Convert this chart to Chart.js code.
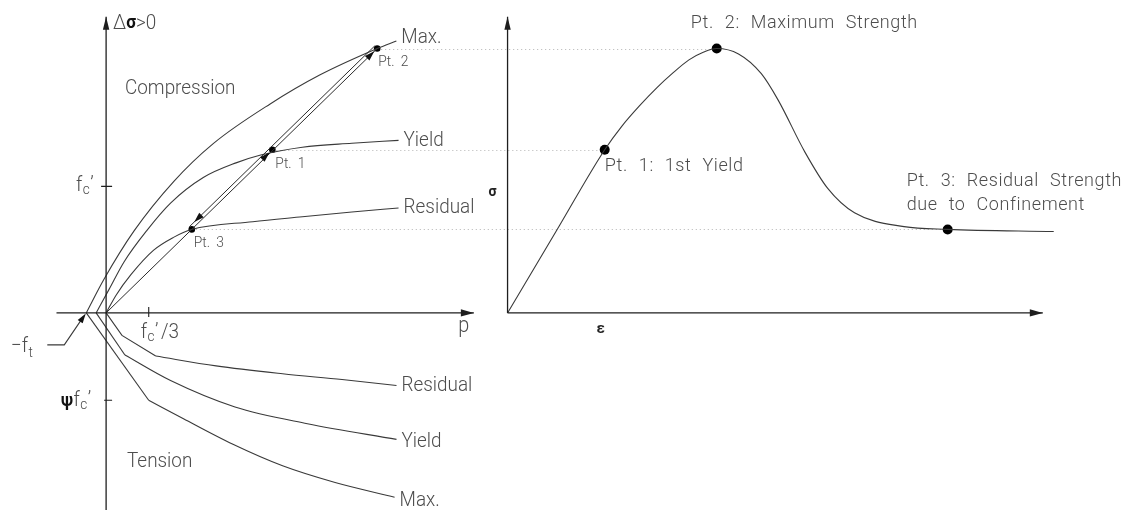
<!DOCTYPE html>
<html>
<head>
<meta charset="utf-8">
<script src="https://cdn.jsdelivr.net/npm/chart.js@4.4.1/dist/chart.umd.min.js"></script>
<style>
  html, body { margin: 0; padding: 0; background: #fff; }
  #wrap { position: relative; width: 1142px; height: 515px; }
</style>
</head>
<body>
<div id="wrap"><canvas id="c" width="1142" height="515"></canvas></div>
<script>
// ---- Meridional plane (p, Δσ), everything normalised by f_c' ----
const fcTick = 1;            // f_c'
const fcThirdTick = 1 / 3;   // f_c'/3
const psiTick = -0.69;       // ψ f_c'
const ftValue = 0.155;       // tensile strength f_t (surfaces start at -f_t)

// compression meridians [p, Δσ]
const compMax      = [[-0.155,0],[-0.02,0.26],[0.22,0.65],[0.53,1.04],[0.84,1.34],[1.28,1.65],[1.67,1.88],[2.12,2.09],[2.27,2.15]];
const compYield    = [[-0.078,0],[0.023,0.186],[0.14,0.403],[0.318,0.651],[0.504,0.868],[0.76,1.07],[1.016,1.186],[1.209,1.248],[1.535,1.31],[1.922,1.341],[2.287,1.364]];
const compResidual = [[0,0],[0.078,0.14],[0.194,0.302],[0.372,0.496],[0.527,0.597],[0.667,0.659],[1.147,0.721],[1.535,0.76],[1.922,0.798],[2.287,0.829]];

// tension meridians [p, Δσ]; the first points form a straight leg up to the kink
const tensMax      = [[-0.155,0],[0.333,-0.69],[0.605,-0.837],[0.992,-1.039],[1.38,-1.209],[1.791,-1.341],[2.256,-1.457]];
const tensYield    = [[-0.078,0],[0.147,-0.333],[0.504,-0.535],[1.008,-0.744],[1.574,-0.876],[2.271,-1.0]];
const tensResidual = [[0,0],[0.124,-0.178],[0.388,-0.341],[0.86,-0.419],[1.38,-0.481],[1.845,-0.527],[2.271,-0.574]];
const tensKink = { max: 1, yield: 1, residual: 2 };

// characteristic points: Pt. 1 (1st yield), Pt. 2 (maximum), Pt. 3 (residual)
const ptNames  = ['Pt. 1', 'Pt. 2', 'Pt. 3'];
const ptP      = [1.30, 2.12, 0.67];
const ptStress = [1.29, 2.09, 0.66];
const ptStrain = [0.98, 2.11, 4.44];

// ---- Stress-strain response (ε, σ) ----
const strain = [0, 0.49, 0.98, 1.15, 1.33, 1.51, 1.66, 1.83, 1.98, 2.11, 2.33, 2.56, 2.73, 3.00, 3.23, 3.50, 4.00, 4.44, 5.51];
const stress = [0, 0.645, 1.29, 1.473, 1.636, 1.783, 1.891, 2.0, 2.062, 2.09, 2.047, 1.891, 1.682, 1.271, 0.984, 0.791, 0.682, 0.66, 0.643];

// axis extents
const pAxis = [-0.388, 2.876];
const dsAxis = [-1.558, 2.341];
const epsAxis = [0, 5.40];
const sigAxis = [0, 2.341];

const INK = '#3a3a3a';
const AXIS = '#1e1e1e';
const TEXT = '#4d4d4d';
const FONT = 'Roboto, "DejaVu Sans", sans-serif';

const toXY = arr => arr.map(([a, b]) => ({ x: a, y: b }));
function line(data, xAxisID, extra) {
  return Object.assign({
    data: toXY(data), xAxisID: xAxisID, yAxisID: 'y', showLine: true,
    borderColor: INK, borderWidth: 1.1, pointRadius: 0, pointHoverRadius: 0,
    fill: false, tension: 0
  }, extra || {});
}
const curve = (data, xAxisID) => line(data, xAxisID, { cubicInterpolationMode: 'monotone' });

const datasets = [
  // axes
  line([[0, dsAxis[0]], [0, dsAxis[1]]], 'x', { borderColor: AXIS, borderWidth: 1.3 }),
  line([[pAxis[0], 0], [pAxis[1], 0]], 'x', { borderColor: AXIS, borderWidth: 1.3 }),
  line([[0, sigAxis[0]], [0, sigAxis[1]]], 'x2', { borderColor: AXIS, borderWidth: 1.3 }),
  line([[epsAxis[0], 0], [epsAxis[1], 0]], 'x2', { borderColor: AXIS, borderWidth: 1.3 }),
  // compression meridians
  curve(compMax, 'x'), curve(compYield, 'x'), curve(compResidual, 'x'),
  // tension meridians: straight leg + curved tail
  line(tensMax.slice(0, tensKink.max + 1), 'x'), curve(tensMax.slice(tensKink.max), 'x'),
  line(tensYield.slice(0, tensKink.yield + 1), 'x'), curve(tensYield.slice(tensKink.yield), 'x'),
  line(tensResidual.slice(0, tensKink.residual + 1), 'x'), curve(tensResidual.slice(tensKink.residual), 'x'),
  // loading path from the origin through Pt. 3 and Pt. 1 up to Pt. 2
  line([[0, 0], [ptP[1], ptStress[1]]], 'x', { borderColor: '#2a2a2a', borderWidth: 1 }),
  // stress-strain curve
  curve(strain.map((e, i) => [e, stress[i]]), 'x2'),
  // points
  { data: toXY(ptP.map((p, i) => [p, ptStress[i]])), xAxisID: 'x', yAxisID: 'y', showLine: false,
    pointRadius: 3.3, pointBackgroundColor: '#000', pointBorderColor: '#000', pointBorderWidth: 0 },
  { data: toXY(ptStrain.map((e, i) => [e, ptStress[i]])), xAxisID: 'x2', yAxisID: 'y', showLine: false,
    pointRadius: 5, pointBackgroundColor: '#000', pointBorderColor: '#000', pointBorderWidth: 0 }
];

// text helper: o.sx compresses glyphs horizontally, o.ws / o.ls widen word / letter gaps
function txt(ctx, s, x, y, size, o) {
  o = o || {};
  const sx = o.sx || 1;
  ctx.save();
  ctx.font = (o.weight || 300) + ' ' + size + 'px ' + FONT;
  ctx.fillStyle = o.color || TEXT;
  ctx.textAlign = o.align || 'left';
  ctx.textBaseline = o.baseline || 'middle';
  if ('wordSpacing' in ctx) ctx.wordSpacing = (o.ws || 0) + 'px';
  if ('letterSpacing' in ctx) ctx.letterSpacing = (o.ls || 0) + 'px';
  ctx.translate(x, y);
  ctx.scale(sx, 1);
  ctx.fillText(s, 0, 0);
  const w = ctx.measureText(s).width * sx;
  ctx.restore();
  return w;
}
const BIG = { sx: 0.9 };
// f_c' with subscript and prime, alphabetic baseline at y
function fcLabel(ctx, x, y, size) {
  const w1 = txt(ctx, 'f', x, y, size, { baseline: 'alphabetic', sx: 0.9 });
  const w2 = txt(ctx, 'c', x + w1 + 0.5, y + 3, size * 0.72, { baseline: 'alphabetic', sx: 0.9 });
  const w3 = txt(ctx, '\u2019', x + w1 + w2 + 1, y - 1, size, { baseline: 'alphabetic', sx: 0.9 });
  return w1 + w2 + w3 + 1.5;
}
function arrowHead(ctx, tx, ty, dx, dy, len, hw) {
  const n = Math.hypot(dx, dy); dx /= n; dy /= n;
  const bx = tx - dx * len, by = ty - dy * len;
  ctx.beginPath();
  ctx.moveTo(tx, ty);
  ctx.lineTo(bx - dy * hw, by + dx * hw);
  ctx.lineTo(bx + dy * hw, by - dx * hw);
  ctx.closePath();
  ctx.fill();
}

const decor = {
  id: 'decor',
  beforeDatasetsDraw(chart) {
    const { ctx, scales: { x, x2, y } } = chart;
    ctx.save();
    ctx.strokeStyle = '#b4b4b4';
    ctx.lineWidth = 1;
    ctx.setLineDash([1, 3]);
    for (let i = 0; i < ptStress.length; i++) {
      const yy = Math.round(y.getPixelForValue(ptStress[i])) + 0.5;
      ctx.beginPath();
      ctx.moveTo(x.getPixelForValue(ptP[i]), yy);
      ctx.lineTo(x2.getPixelForValue(ptStrain[i]), yy);
      ctx.stroke();
    }
    ctx.restore();
  },
  afterDatasetsDraw(chart) {
    const { ctx, scales: { x, x2, y } } = chart;
    const X = v => x.getPixelForValue(v), X2 = v => x2.getPixelForValue(v), Y = v => y.getPixelForValue(v);
    ctx.save();
    ctx.fillStyle = AXIS;
    ctx.strokeStyle = AXIS;
    // axis arrowheads
    arrowHead(ctx, X(0), Y(dsAxis[1]), 0, -1, 13, 3.2);
    arrowHead(ctx, X(pAxis[1]), Y(0), 1, 0, 13, 3.6);
    arrowHead(ctx, X2(0), Y(sigAxis[1]), 0, -1, 13, 3.2);
    arrowHead(ctx, X2(epsAxis[1]), Y(0), 1, 0, 13, 3.6);

    // ticks
    ctx.lineWidth = 1.1;
    ctx.beginPath();
    ctx.moveTo(X(0) - 5, Y(fcTick)); ctx.lineTo(X(0) + 6, Y(fcTick));
    ctx.moveTo(X(0) - 2, Y(psiTick)); ctx.lineTo(X(0) + 6, Y(psiTick));
    ctx.moveTo(X(fcThirdTick), Y(0) - 6); ctx.lineTo(X(fcThirdTick), Y(0) + 4);
    ctx.stroke();

    // unloading path (parallel to the loading path) and path arrows
    const p1 = { x: X(ptP[0]), y: Y(ptStress[0]) };
    const p2 = { x: X(ptP[1]), y: Y(ptStress[1]) };
    const p3 = { x: X(ptP[2]), y: Y(ptStress[2]) };
    let dx = p2.x - p3.x, dy = p2.y - p3.y;
    const L = Math.hypot(dx, dy); dx /= L; dy /= L;
    const nx = dy, ny = -dx, off = 3.6;
    ctx.strokeStyle = '#2a2a2a';
    ctx.lineWidth = 1;
    ctx.beginPath();
    ctx.moveTo(p2.x + nx * off, p2.y + ny * off);
    ctx.lineTo(p3.x + nx * off, p3.y + ny * off);
    ctx.stroke();
    ctx.fillStyle = '#111';
    arrowHead(ctx, p1.x - dx * 4, p1.y - dy * 4, dx, dy, 10, 3.2);
    arrowHead(ctx, p2.x - dx * 4, p2.y - dy * 4, dx, dy, 10, 3.2);
    arrowHead(ctx, p3.x + nx * off + dx * 7, p3.y + ny * off + dy * 7, -dx, -dy, 10, 3.2);

    // -f_t leader
    const fx = X(-ftValue), fy = Y(0);
    ctx.strokeStyle = INK;
    ctx.lineWidth = 1.1;
    ctx.beginPath();
    ctx.moveTo(fx - 39, fy + 32);
    ctx.lineTo(fx - 22, fy + 32);
    ctx.lineTo(fx - 3, fy + 4);
    ctx.stroke();
    ctx.fillStyle = '#111';
    arrowHead(ctx, fx - 0.5, fy + 0.5, 19, -28, 10, 3);

    // ---- text ----
    txt(ctx, 'Compression', 125, 89, 21, BIG);
    txt(ctx, 'Tension', 127, 462, 21, BIG);
    let w = txt(ctx, '\u0394', 113, 24, 21, BIG);
    w += txt(ctx, '\u03c3', 113 + w, 23, 19, { weight: 700, color: '#111', sx: 0.9 });
    txt(ctx, '>0', 113 + w, 24, 21, BIG);
    txt(ctx, 'p', X(pAxis[1]) - 10, Y(0) + 14, 22, { align: 'center', sx: 0.9 });

    // tick labels
    fcLabel(ctx, 76, Y(fcTick) + 5, 21);
    const pw = txt(ctx, '\u03c8', 61, Y(psiTick) + 6, 18, { weight: 700, color: '#111', baseline: 'alphabetic', sx: 0.9 });
    fcLabel(ctx, 61 + pw + 0.5, Y(psiTick) + 6, 21);
    const fw = fcLabel(ctx, X(fcThirdTick) - 8, Y(0) + 25, 21);
    txt(ctx, '/3', X(fcThirdTick) - 8 + fw + 2, Y(0) + 25, 21, { baseline: 'alphabetic', sx: 0.9 });
    const mw = txt(ctx, '\u2212f', 11, fy + 39, 21, { baseline: 'alphabetic', sx: 0.9 });
    txt(ctx, 't', 11 + mw + 0.5, fy + 44, 15, { baseline: 'alphabetic', sx: 0.9 });

    // surface names at the ends of the meridians
    const endLabel = (arr, s, dyy) => {
      const e = arr[arr.length - 1];
      txt(ctx, s, X(e[0]) + 5, Y(e[1]) + dyy, 21, BIG);
    };
    endLabel(compMax, 'Max.', -3);
    endLabel(compYield, 'Yield', 0);
    endLabel(compResidual, 'Residual', 0);
    endLabel(tensResidual, 'Residual', 0);
    endLabel(tensYield, 'Yield', 2);
    endLabel(tensMax, 'Max.', 4);

    // point tags on the meridian plot
    const tag = { sx: 0.92, ws: 3 };
    txt(ctx, ptNames[0], p1.x + 3, p1.y + 15, 15, tag);
    txt(ctx, ptNames[1], p2.x + 1, p2.y + 14, 15, tag);
    txt(ctx, ptNames[2], p3.x + 2, p3.y + 14, 15, tag);

    // stress-strain annotations
    const q1 = { x: X2(ptStrain[0]), y: Y(ptStress[0]) };
    const q2 = { x: X2(ptStrain[1]), y: Y(ptStress[1]) };
    const q3 = { x: X2(ptStrain[2]), y: Y(ptStress[2]) };
    const note = { ws: 6, ls: 0.6 };
    txt(ctx, ptNames[0] + ': 1st Yield', q1.x, q1.y + 17, 18, note);
    txt(ctx, ptNames[1] + ': Maximum Strength', q2.x - 26, q2.y - 25, 18, note);
    txt(ctx, ptNames[2] + ': Residual Strength', q3.x - 41, q3.y - 48, 18, note);
    txt(ctx, 'due to Confinement', q3.x - 41, q3.y - 24, 18, note);
    txt(ctx, '\u03c3', X2(0) - 15, Y(0.95), 14, { weight: 700, color: '#222', align: 'center' });
    txt(ctx, '\u03b5', X2(0.94), Y(0) + 16, 15, { weight: 700, color: '#222', align: 'center' });
    ctx.restore();
  }
};

new Chart(document.getElementById('c'), {
  type: 'scatter',
  data: { datasets },
  options: {
    responsive: false,
    devicePixelRatio: 1,
    animation: false,
    events: [],
    layout: { padding: 0 },
    plugins: { legend: { display: false }, tooltip: { enabled: false }, title: { display: false } },
    scales: {
      x:  { type: 'linear', axis: 'x', min: -0.7907, max: 8.062, display: false },
      x2: { type: 'linear', axis: 'x', min: -5.07, max: 6.35, display: false },
      y:  { type: 'linear', axis: 'y', min: -1.558, max: 2.434, display: false }
    }
  },
  plugins: [decor]
});
</script>
</body>
</html>
